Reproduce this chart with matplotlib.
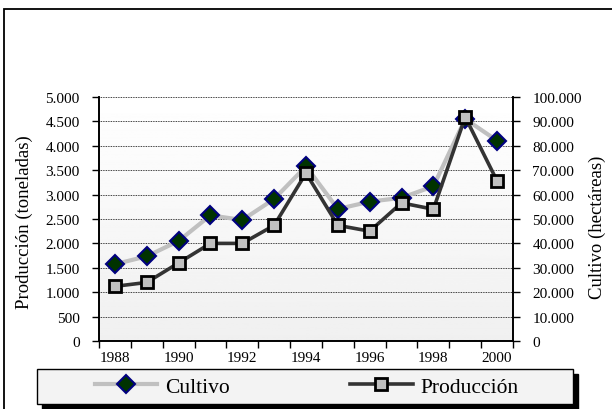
import matplotlib
matplotlib.use("Agg")
import matplotlib.pyplot as plt
import numpy as np
from matplotlib.patches import Rectangle
from matplotlib.lines import Line2D
from matplotlib.ticker import FuncFormatter, MultipleLocator

# ---------------------------------------------------------------------------
# Data
# ---------------------------------------------------------------------------
years = [1988, 1989, 1990, 1991, 1992, 1993, 1994,
         1995, 1996, 1997, 1998, 1999, 2000]
cultivo_ha = [31500, 34700, 41000, 51500, 49600, 58200, 71600,
              54100, 57100, 58700, 63400, 91000, 82100]
produccion_t = [1120, 1200, 1600, 2000, 2000, 2370, 3440,
                2370, 2250, 2830, 2700, 4590, 3280]
year_labels = [str(y) if (y - years[0]) % 2 == 0 else "" for y in years]

plt.rcParams.update({
    "font.family": ["Liberation Serif", "DejaVu Serif"],
    "font.size": 10,
})

W, H = 612, 410


def fx(px):
    return px / W


def fy(py):
    return 1 - py / H


def thousands(v, pos=None):
    return f"{int(round(v)):,}".replace(",", ".")


fig = plt.figure(figsize=(W / 100, H / 100), dpi=100)

# outer chart border (clipped at right / bottom like the reference)
fig.patches.append(Rectangle((fx(4), -0.1), 1.2, fy(10) + 0.1,
                             transform=fig.transFigure, fill=False,
                             edgecolor="black", linewidth=1.3))

pos = [fx(99), fy(342), fx(513) - fx(99), fy(98) - fy(342)]

# gradient plot background
bg = fig.add_axes(pos, zorder=0)
grad = np.linspace(1.0, 0.94, 256).reshape(-1, 1)
bg.imshow(grad, cmap="gray", vmin=0, vmax=1, aspect="auto",
          extent=[0, 1, 0, 1], origin="upper")
bg.set_axis_off()

ax = fig.add_axes(pos, zorder=2)
ax2 = ax.twinx()
ax2.set_zorder(1)
ax.patch.set_visible(False)
ax2.patch.set_visible(False)

x = np.arange(len(years))

# Cultivo (right axis)
ax2.plot(x, cultivo_ha, color="#c0c0c0", linewidth=3,
         marker="D", markersize=9, markerfacecolor="#003300",
         markeredgecolor="#000080", markeredgewidth=1.5, zorder=3)
# Producción (left axis)
ax.plot(x, produccion_t, color="#333333", linewidth=2.6,
        marker="s", markersize=8, markerfacecolor="#c0c0c0",
        markeredgecolor="black", markeredgewidth=2, zorder=3)

ax.set_xlim(-0.5, len(years) - 0.5)
ax.set_ylim(0, 5000)
ax2.set_ylim(0, 100000)

ax.yaxis.set_major_locator(MultipleLocator(500))
ax2.yaxis.set_major_locator(MultipleLocator(10000))
ax.yaxis.set_major_formatter(FuncFormatter(thousands))
ax2.yaxis.set_major_formatter(FuncFormatter(thousands))

ax2.set_axisbelow(True)
ax2.grid(axis="y", color="black", linestyle=(0, (1, 1)), linewidth=0.6)

ax.set_xticks(x)
ax.set_xticklabels(year_labels)
ax.set_xticks(np.arange(-0.5, len(years)), minor=True)
ax.tick_params(axis="x", which="major", length=0, pad=7, labelsize=11)
ax.tick_params(axis="x", which="minor", length=5, width=1, direction="out")
ax.tick_params(axis="y", length=5, width=1, pad=9, labelsize=11)
ax2.tick_params(axis="y", length=5, width=1, pad=9, labelsize=11)

for a in (ax, ax2):
    a.spines["top"].set_visible(False)
    for s in ("left", "right", "bottom"):
        a.spines[s].set_linewidth(1.2)

fig.text(fx(24), fy(222), "Producción (toneladas)", rotation=90,
         ha="center", va="center", fontsize=13.5)
fig.text(fx(597), fy(227), "Cultivo (hectáreas)", rotation=90,
         ha="center", va="center", fontsize=13.5)

# legend box with black drop shadow
fig.patches.append(Rectangle((fx(42), fy(411)), fx(578) - fx(42),
                             fy(375) - fy(411), transform=fig.transFigure,
                             facecolor="black", edgecolor="black", zorder=3))
fig.patches.append(Rectangle((fx(37), fy(405)), fx(573) - fx(37),
                             fy(370) - fy(405), transform=fig.transFigure,
                             facecolor="#f3f3f3", edgecolor="black",
                             linewidth=1, zorder=4))

handles = [
    Line2D([], [], color="#c0c0c0", linewidth=3, marker="D", markersize=9,
           markerfacecolor="#003300", markeredgecolor="#000080",
           markeredgewidth=1.5),
    Line2D([], [], color="#333333", linewidth=2.6, marker="s", markersize=8,
           markerfacecolor="#c0c0c0", markeredgecolor="black",
           markeredgewidth=2),
]
leg = fig.legend(handles, ["Cultivo", "Producción"], ncol=2,
                 loc="center left", bbox_to_anchor=(fx(95), fy(387.5)),
                 frameon=False, fontsize=15.5, handlelength=2.9,
                 handletextpad=0.35, columnspacing=5.6, borderpad=0,
                 borderaxespad=0)
leg.set_zorder(5)

fig.savefig("out.png", dpi=100)
